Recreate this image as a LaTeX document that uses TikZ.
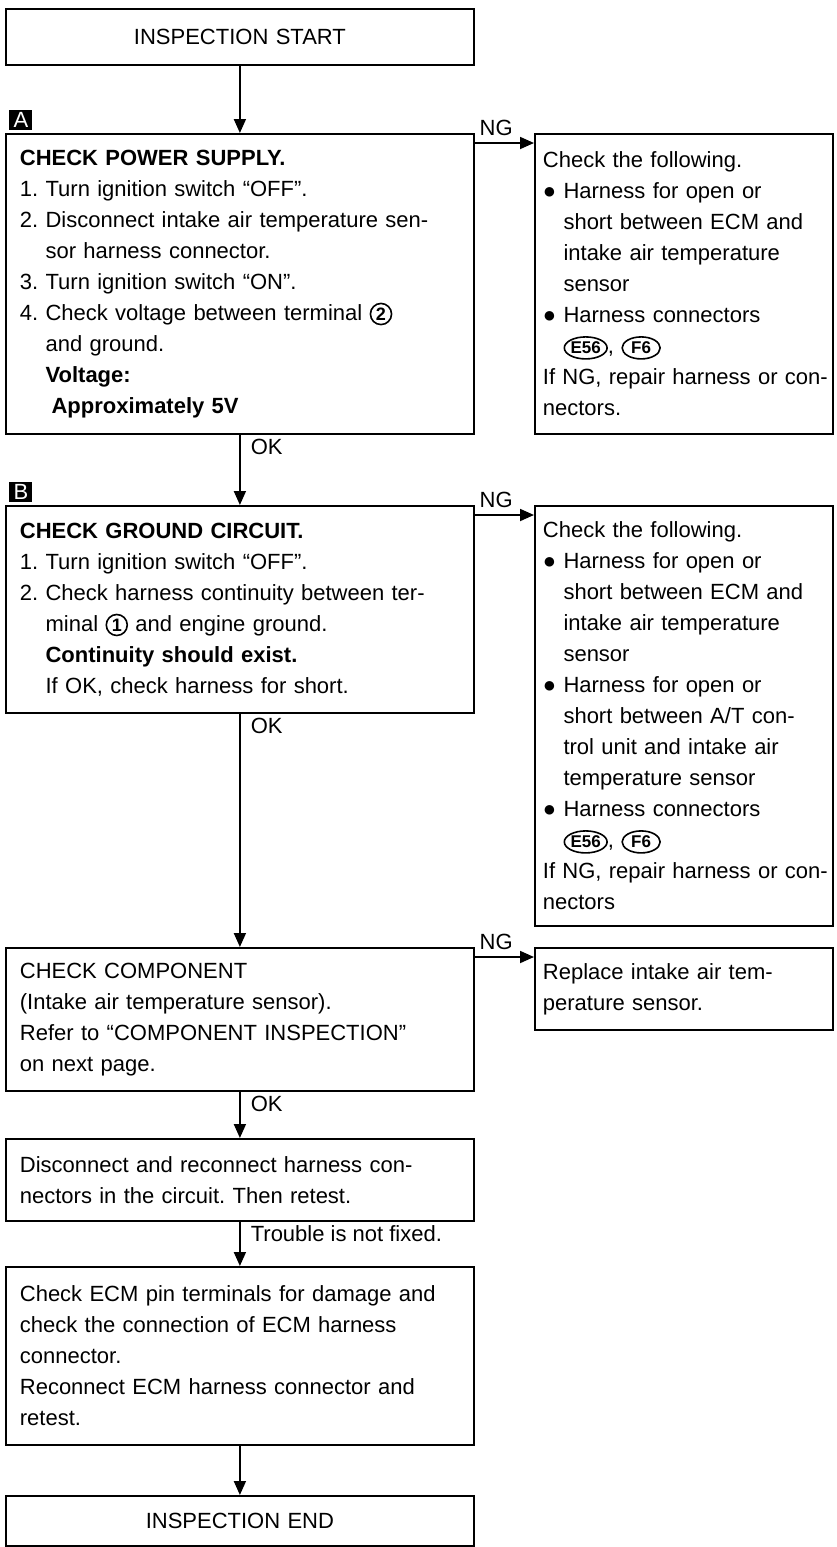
\documentclass[tikz,border=0pt]{standalone}
\usepackage{fontspec}
\setmainfont{Liberation Sans}
\usetikzlibrary{arrows.meta,positioning,shapes.geometric}

\newcommand{\boxfont}{\fontsize{11}{15.5}\selectfont\frenchspacing}
\newcommand{\blt}{\raisebox{0.05ex}{●}}
\newcommand{\bind}{\phantom{\blt\ }}
% small inline marks; reset what the outer box node passes down
\tikzset{inmark/.style={anchor=center,text width=,align=center,minimum width=0pt,minimum height=0pt,fill=none,text=black,draw,line width=0.8pt}}
\newcommand{\cnum}[1]{\tikz[baseline=(c.base)]\node[inmark,circle,inner sep=0.9pt,font=\bfseries\fontsize{9}{9}\selectfont](c){#1};}
\newcommand{\conn}[1]{\tikz[baseline=(c.base)]\node[inmark,ellipse,inner xsep=0pt,inner ysep=0.5pt,minimum width=19pt,minimum height=11pt,font=\bfseries\fontsize{8.5}{8.5}\selectfont](c){#1};}

\begin{document}
\begin{tikzpicture}[x=0.5pt,y=-0.5pt,
  chk/.style={draw,line width=0.9pt,anchor=north west,align=left,text width=220pt,inner xsep=7pt,inner ysep=0pt,font=\boxfont},
  note/.style={chk,text width=141pt,inner xsep=4pt},
  term/.style={chk,align=center},
  tag/.style={fill=black,text=white,anchor=south west,inner sep=0pt,minimum width=11.5pt,minimum height=10pt,font=\fontsize{11}{11}\selectfont},
  arr/.style={line width=0.9pt,-{Triangle[length=7pt,width=6pt]}},
  lbl/.style={font=\boxfont,inner xsep=5pt,inner ysep=1.5pt},
  ng/.style={lbl,pos=0,anchor=south west,inner xsep=2pt,inner ysep=3pt}]
  \useasboundingbox (0,0) rectangle (836,1547);

  % start
  \node[term,minimum height=28pt] (start) at (5,8) {INSPECTION START};

  % A: power supply
  \node[chk,minimum height=150pt] (pwr) at (5,133) {\textbf{CHECK POWER SUPPLY.}\\
    1. Turn ignition switch “OFF”.\\
    2. Disconnect intake air temperature sen-\\
    \phantom{2. }sor harness connector.\\
    3. Turn ignition switch “ON”.\\
    4. Check voltage between terminal \cnum{2}\\
    \phantom{4. }and ground.\\
    \phantom{4. }\textbf{Voltage:}\\
    \phantom{4. }\hspace{3pt}\textbf{Approximately 5V}};
  \node[tag] (tagA) at (9,130) {A};
  \node[note,minimum height=150pt] (fixA) at (534,133) {Check the following.\\
    \blt\ Harness for open or\\
    \bind short between ECM and\\
    \bind intake air temperature\\
    \bind sensor\\
    \blt\ Harness connectors\\
    \bind\conn{E56}, \conn{F6}\\
    \mbox{If NG, repair harness or con-}\\
    nectors.};

  % B: ground circuit
  \node[chk,minimum height=103.5pt] (gnd) at (5,505) {\textbf{CHECK GROUND CIRCUIT.}\\
    1. Turn ignition switch “OFF”.\\
    2. Check harness continuity between ter-\\
    \phantom{2. }minal \cnum{1} and engine ground.\\
    \phantom{2. }\textbf{Continuity should exist.}\\
    \phantom{2. }If OK, check harness for short.};
  \node[tag] (tagB) at (9,502) {B};
  \node[note,minimum height=210pt] (fixB) at (534,505) {Check the following.\\
    \blt\ Harness for open or\\
    \bind short between ECM and\\
    \bind intake air temperature\\
    \bind sensor\\
    \blt\ Harness for open or\\
    \bind short between A/T con-\\
    \bind trol unit and intake air\\
    \bind temperature sensor\\
    \blt\ Harness connectors\\
    \bind\conn{E56}, \conn{F6}\\
    \mbox{If NG, repair harness or con-}\\
    nectors};

  % component
  \node[chk,minimum height=71.5pt] (comp) at (5,947) {CHECK COMPONENT\\
    (Intake air temperature sensor).\\
    Refer to “COMPONENT INSPECTION”\\
    on next page.};
  \node[note,minimum height=41pt] (repl) at (534,947) {Replace intake air tem-\\
    perature sensor.};

  \node[chk,minimum height=41pt] (recon) at (5,1138) {Disconnect and reconnect harness con-\\
    nectors in the circuit. Then retest.};
  \node[chk,minimum height=89pt] (ecm) at (5,1266) {Check ECM pin terminals for damage and\\
    check the connection of ECM harness\\
    connector.\\
    Reconnect ECM harness connector and\\
    retest.};
  \node[term,minimum height=25pt] (finish) at (5,1495) {INSPECTION END};

  % connectors
  \draw[arr] (start.south) -- (pwr.north);
  \draw[arr] ([yshift=-5pt]pwr.north east) -- node[ng]{NG} ([yshift=-5pt]fixA.north west);
  \draw[arr] (pwr.south) -- node[lbl,pos=0,anchor=north west]{OK} (gnd.north);
  \draw[arr] ([yshift=-5pt]gnd.north east) -- node[ng]{NG} ([yshift=-5pt]fixB.north west);
  \draw[arr] (gnd.south) -- node[lbl,pos=0,anchor=north west]{OK} (comp.north);
  \draw[arr] ([yshift=-5pt]comp.north east) -- node[ng]{NG} ([yshift=-5pt]repl.north west);
  \draw[arr] (comp.south) -- node[lbl,pos=0,anchor=north west]{OK} (recon.north);
  \draw[arr] (recon.south) -- node[lbl,pos=0,anchor=north west]{Trouble is not fixed.} (ecm.north);
  \draw[arr] (ecm.south) -- (finish.north);
\end{tikzpicture}
\end{document}
